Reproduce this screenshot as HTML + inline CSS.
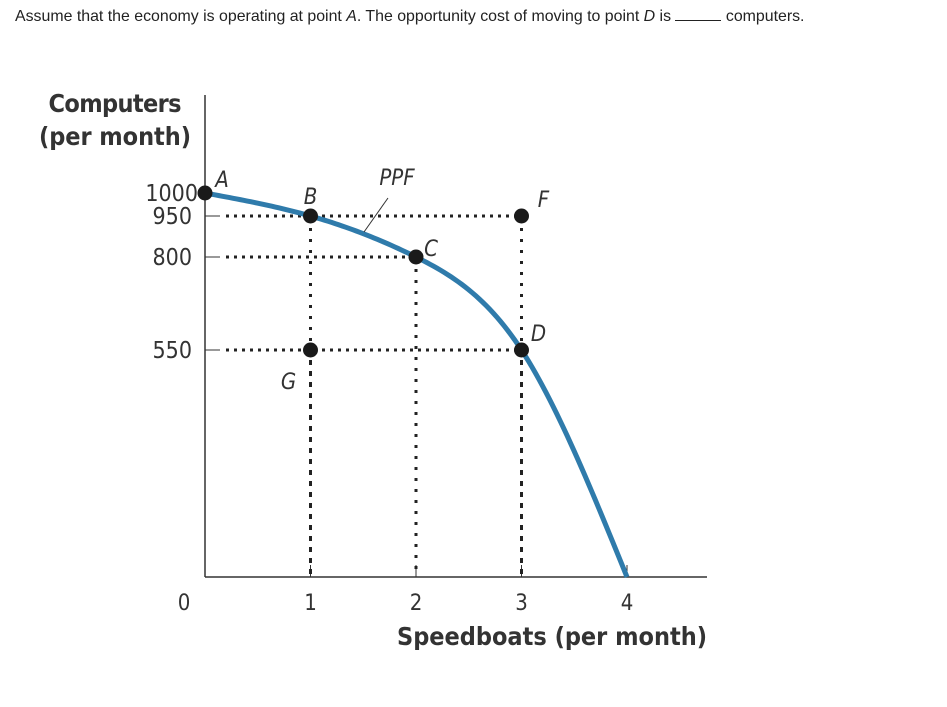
<!DOCTYPE html>
<html><head><meta charset="utf-8"><style>
body{margin:0;background:#fff;width:947px;height:707px;overflow:hidden;font-family:"Liberation Sans",sans-serif}
#q{position:absolute;left:15px;top:8px;font-size:15.9px;color:#222}
</style></head><body>
<div id="q">Assume that the economy is operating at point <i>A</i>. The opportunity cost of moving to point <i>D</i> is <span style="display:inline-block;width:46px;border-bottom:1px solid #222"></span> computers.</div>
<svg id="chart" width="947" height="707" style="position:absolute;left:0;top:0">
<text x="115" y="112" text-anchor="middle" font-family="DejaVu Sans Condensed, DejaVu Sans, sans-serif" font-weight="bold" font-size="25" fill="#333" textLength="133">Computers</text>
<text x="115" y="145" text-anchor="middle" font-family="DejaVu Sans Condensed, DejaVu Sans, sans-serif" font-weight="bold" font-size="25" fill="#333" textLength="152">(per month)</text>
<text x="552" y="645" text-anchor="middle" font-family="DejaVu Sans Condensed, DejaVu Sans, sans-serif" font-weight="bold" font-size="25" fill="#333" textLength="310">Speedboats (per month)</text>
<g id="g"></g>
</svg>
<script>
const xTicks=[0,1,2,3,4];
const yTicks=[0,550,800,950,1000];
const pointNames=["A","B","C","D","G","F"];
const pointX=[0,1,2,3,1,3];
const pointY=[1000,950,800,550,550,950];
const curveX=[0,1,2,3,4];
const curveY=[1000,950,800,550,0];
const yPix=[577,350,257,216,193];
function sx(v){return 205+v*105.5;}
function sy(v){for(let i=0;i<yTicks.length-1;i++){if(v<=yTicks[i+1]){const t=(v-yTicks[i])/(yTicks[i+1]-yTicks[i]);return yPix[i]+t*(yPix[i+1]-yPix[i]);}}return yPix[yPix.length-1];}
const NS="http://www.w3.org/2000/svg",g=document.getElementById('g');
function mk(t,a){const e=document.createElementNS(NS,t);for(const k in a)e.setAttribute(k,a[k]);g.appendChild(e);return e;}
let e;
e=mk('line',{x1:205,y1:95,x2:205,y2:577,stroke:'#333','stroke-width':1.5});

e=mk('line',{x1:205,y1:577,x2:707,y2:577,stroke:'#333','stroke-width':1.5});

xTicks.forEach(v=>{
 if(v>0){e=mk('line',{x1:sx(v),y1:565,x2:sx(v),y2:577,stroke:'#333','stroke-width':1});}
 e=mk('text',{x:sx(v)-(v==0?21:0),y:610,'text-anchor':'middle','font-size':22,'font-family':'DejaVu Sans Condensed, DejaVu Sans, sans-serif',fill:'#333'});e.textContent=v;
 
});
yTicks.forEach(v=>{if(v==0)return;
 if(v!=1000){e=mk('line',{x1:205,y1:sy(v),x2:220,y2:sy(v),stroke:'#333','stroke-width':1});}
 e=mk('text',{x:v==1000?198:192,y:sy(v)+8,'text-anchor':'end','font-size':23,'font-family':'DejaVu Sans Condensed, DejaVu Sans, sans-serif',fill:'#333'});e.textContent=v;
 
});
for(let i=1;i<pointNames.length;i++){
 const px=sx(pointX[i]),py=sy(pointY[i]);
 e=mk('line',{x1:226,y1:py,x2:px,y2:py,stroke:'#222','stroke-width':3,'stroke-dasharray':'3 5'});
 
 e=mk('line',{x1:px,y1:py+12,x2:px,y2:577,stroke:'#222','stroke-width':3,'stroke-dasharray':'3 8'});
 
}
const X=curveX.map(sx),Y=curveY.map(sy),n=X.length;
const h=[],al=[0],l=[1],mu=[0],z=[0],c=new Array(n).fill(0),b=[],dd=[];
for(let i=0;i<n-1;i++)h.push(X[i+1]-X[i]);
for(let i=1;i<n-1;i++)al.push(3/h[i]*(Y[i+1]-Y[i])-3/h[i-1]*(Y[i]-Y[i-1]));
for(let i=1;i<n-1;i++){l[i]=2*(X[i+1]-X[i-1])-h[i-1]*mu[i-1];mu[i]=h[i]/l[i];z[i]=(al[i]-h[i-1]*z[i-1])/l[i];}
for(let j=n-2;j>=0;j--){c[j]=(j>0?z[j]-mu[j]*c[j+1]:0);b[j]=(Y[j+1]-Y[j])/h[j]-h[j]*(c[j+1]+2*c[j])/3;dd[j]=(c[j+1]-c[j])/(3*h[j]);}
let d='M'+X[0]+','+Y[0];
for(let j=0;j<n-1;j++)for(let k=1;k<=30;k++){const t=h[j]*k/30;d+=' L'+(X[j]+t).toFixed(2)+','+(Y[j]+b[j]*t+c[j]*t*t+dd[j]*t*t*t).toFixed(2);}
e=mk('path',{d:d,fill:'none',stroke:'#2f7bab','stroke-width':5});

e=mk('line',{x1:364,y1:232,x2:388,y2:198,stroke:'#333','stroke-width':1});

e=mk('text',{x:397,y:185,'text-anchor':'middle','font-size':22,'font-style':'italic','font-family':'DejaVu Sans Condensed, DejaVu Sans, sans-serif',fill:'#333'});e.textContent='PPF';

const off={A:[17,-14],B:[0,-20],C:[15,-9],D:[17,-17],G:[-22,31],F:[22,-17]};
pointNames.forEach((nm,i)=>{const px=sx(pointX[i]),py=sy(pointY[i]);
 e=mk('circle',{cx:px,cy:py,r:7.5,fill:'#1a1a1a'});
 
 e=mk('text',{x:px+off[nm][0],y:py+off[nm][1]+8,'text-anchor':'middle','font-size':22,'font-style':'italic','font-family':'DejaVu Sans Condensed, DejaVu Sans, sans-serif',fill:'#333'});e.textContent=nm;
 
});
</script>
</body></html>
